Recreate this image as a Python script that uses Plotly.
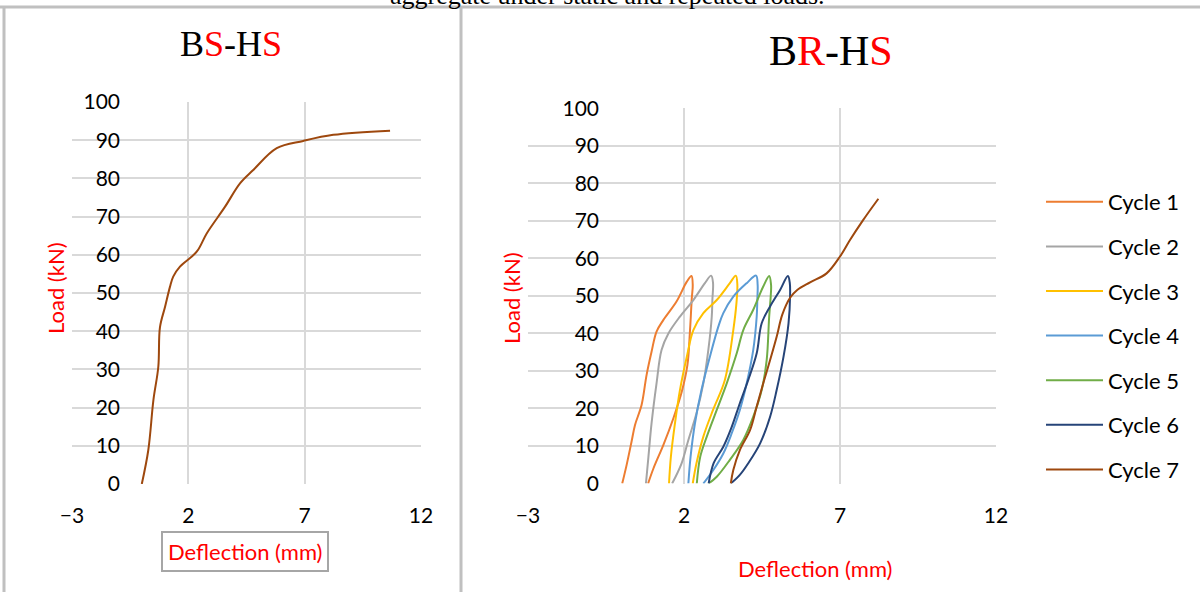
import plotly.graph_objects as go

W, H = 1200, 592

# ---------------- data ----------------
x_ticks = [-3, 2, 7, 12]
y_ticks = [0, 10, 20, 30, 40, 50, 60, 70, 80, 90, 100]

bs_hs_x = [0.0, 0.28, 0.5, 0.71, 0.78, 1.0, 1.21, 1.35, 1.64, 2.36, 2.79, 3.58, 4.22, 4.79, 5.80, 6.94, 8.23, 10.67]
bs_hs_y = [0, 8.9, 22, 30.7, 41, 46.4, 51.6, 54.3, 56.9, 60.8, 65.6, 72.6, 78.7, 82.2, 87.9, 89.8, 91.4, 92.5]

cycle_names = ["Cycle 1", "Cycle 2", "Cycle 3", "Cycle 4", "Cycle 5", "Cycle 6", "Cycle 7"]

cycle1_x = [0.02, 0.16, 0.32, 0.43, 0.64, 0.80, 0.96, 1.12, 1.34, 1.76, 2.09, 2.24, 2.28, 2.25, 2.19, 2.11, 1.93, 1.66, 1.34, 1.02, 0.85]
cycle1_y = [0, 4.9, 11.2, 15.6, 20.9, 28.9, 35.1, 40.5, 43.6, 48.5, 53.8, 55.3, 52.9, 49.4, 40.5, 31.6, 24.5, 17.4, 10.3, 4.0, 0]

cycle2_x = [0.78, 0.86, 0.96, 1.12, 1.28, 1.50, 1.87, 2.30, 2.67, 2.87, 2.93, 2.91, 2.89, 2.78, 2.62, 2.40, 2.14, 1.92, 1.62]
cycle2_y = [0, 7.1, 16, 26.7, 35.6, 40, 44.5, 48.9, 53.4, 55.4, 53.5, 49, 44.5, 35.6, 26.7, 18.7, 11.6, 5.3, 0]

cycle3_x = [1.52, 1.58, 1.71, 1.87, 2.09, 2.30, 2.62, 3.05, 3.47, 3.66, 3.71, 3.68, 3.58, 3.31, 2.93, 2.62, 2.40, 2.28]
cycle3_y = [0, 7.2, 16, 24.9, 33.8, 40.9, 45.4, 48.9, 53.4, 55.4, 53, 48, 40.9, 27.6, 19.6, 12.5, 5.4, 0]

cycle4_x = [2.14, 2.21, 2.35, 2.56, 2.83, 3.10, 3.26, 3.58, 4.01, 4.31, 4.36, 4.35, 4.33, 4.22, 4.01, 3.79, 3.53, 3.26, 2.94, 2.62]
cycle4_y = [0, 7.1, 16, 24.9, 33.8, 41.8, 45.4, 49.8, 53.4, 55.4, 53, 49, 44.5, 35.6, 26.7, 19.6, 13.4, 8, 3.6, 0]

cycle5_x = [2.41, 2.52, 2.73, 3.05, 3.37, 3.69, 3.90, 4.22, 4.54, 4.73, 4.79, 4.78, 4.73, 4.65, 4.49, 4.22, 3.90, 3.47, 3.05, 2.79]
cycle5_y = [0, 7.1, 12.5, 19.6, 26.7, 34.7, 40.9, 46.3, 52.5, 55.3, 53, 50, 44.5, 32.9, 24.9, 17.8, 11.6, 6.3, 1.8, 0]

cycle6_x = [2.79, 2.95, 3.26, 3.53, 3.79, 4.06, 4.33, 4.49, 4.76, 5.08, 5.33, 5.39, 5.40, 5.35, 5.19, 4.97, 4.76, 4.44, 4.06, 3.79, 3.50]
cycle6_y = [0, 5.4, 9.8, 15.1, 21.4, 27.6, 34.7, 42.7, 47.2, 51.6, 55.3, 53.5, 50, 42.7, 33.8, 24.9, 17.8, 10.7, 5.4, 2.3, 0]

cycle7_x = [3.50, 3.58, 3.79, 4.12, 4.33, 4.54, 4.76, 4.97, 5.15, 5.40, 5.62, 6.04, 6.57, 7.00, 7.32, 7.74, 8.23]
cycle7_y = [0, 3.6, 8.9, 14.3, 20.5, 26.7, 32.9, 39.1, 45, 49.5, 51.5, 53.6, 56, 60.5, 64.9, 70.2, 75.9]

cycle_colors = ["#ED7D31", "#A5A5A5", "#FFC000", "#5B9BD5", "#70AD47", "#264478", "#9E480E"]
bs_color = "#9E480E"

cycles_x = [cycle1_x, cycle2_x, cycle3_x, cycle4_x, cycle5_x, cycle6_x, cycle7_x]
cycles_y = [cycle1_y, cycle2_y, cycle3_y, cycle4_y, cycle5_y, cycle6_y, cycle7_y]

FONT = "Lato"
GRID = "#d9d9d9"


def px(v):
    return v / W


def py(v):
    return 1 - v / H


fig = go.Figure()

fig.add_trace(go.Scatter(x=bs_hs_x, y=bs_hs_y, mode="lines", xaxis="x", yaxis="y",
                         line=dict(color=bs_color, width=2, shape="spline", smoothing=1.0),
                         showlegend=False, hoverinfo="skip"))

for i in range(7):
    fig.add_trace(go.Scatter(x=cycles_x[i], y=cycles_y[i], mode="lines", name=cycle_names[i],
                             xaxis="x2", yaxis="y2", legendgroup=cycle_names[i],
                             line=dict(color=cycle_colors[i], width=2, shape="spline", smoothing=1.0)))

# dummy traces to carry the tick-label axes
fig.add_trace(go.Scatter(x=[None], y=[None], xaxis="x", yaxis="y3", showlegend=False, hoverinfo="skip"))
fig.add_trace(go.Scatter(x=[None], y=[None], xaxis="x2", yaxis="y4", showlegend=False, hoverinfo="skip"))

common_x = dict(range=[-3, 12], tickvals=x_ticks, showgrid=True, gridcolor=GRID, gridwidth=1.5,
                zeroline=False, showline=False, ticks="outside", ticklen=13,
                tickcolor="rgba(0,0,0,0)", tickfont=dict(family=FONT, size=21, color="#000"),
                fixedrange=True)
common_y = dict(range=[0, 100], tickvals=y_ticks, showgrid=True, gridcolor=GRID, gridwidth=1.5,
                zeroline=False, showline=False, showticklabels=False, ticks="", fixedrange=True)
label_y = dict(range=[0, 100], tickvals=y_ticks, showgrid=False, zeroline=False, showline=False,
               ticks="", tickfont=dict(family=FONT, size=21, color="#000"), anchor="free",
               side="left", fixedrange=True)

fig.update_layout(
    width=W, height=H,
    margin=dict(l=0, r=0, t=0, b=0, autoexpand=False),
    paper_bgcolor="white", plot_bgcolor="white",
    xaxis=dict(domain=[px(72), px(421)], anchor="y", **common_x),
    yaxis=dict(domain=[py(484), py(102)], anchor="x", **common_y),
    xaxis2=dict(domain=[px(528), px(996)], anchor="y2", **common_x),
    yaxis2=dict(domain=[py(483.5), py(108.3)], anchor="x2", **common_y),
    yaxis3=dict(domain=[py(484), py(102)], overlaying="y", position=px(120), **label_y),
    yaxis4=dict(domain=[py(483.5), py(108.3)], overlaying="y2", position=px(599), **label_y),
    legend=dict(x=px(1041), y=py(181), xanchor="left", yanchor="top", itemwidth=57,
                font=dict(family=FONT, size=22, color="#000"), tracegroupgap=13,
                bgcolor="rgba(0,0,0,0)"),
    showlegend=True,
)

annotations = [
    dict(text="B<span style='color:#FF0000'>S</span>-H<span style='color:#FF0000'>S</span>",
         x=px(231), y=py(44), xref="paper", yref="paper", showarrow=False,
         xanchor="center", yanchor="middle", font=dict(family="Liberation Serif", size=36, color="#000")),
    dict(text="B<span style='color:#FF0000'>R</span>-H<span style='color:#FF0000'>S</span>",
         x=px(831), y=py(51), xref="paper", yref="paper", showarrow=False,
         xanchor="center", yanchor="middle", font=dict(family="Liberation Serif", size=42, color="#000")),
    dict(text="Load (kN)", x=px(55), y=py(288), xref="paper", yref="paper", showarrow=False,
         textangle=-90, xanchor="center", yanchor="middle",
         font=dict(family=FONT, size=22, color="#FF0000")),
    dict(text="Load (kN)", x=px(511), y=py(298), xref="paper", yref="paper", showarrow=False,
         textangle=-90, xanchor="center", yanchor="middle",
         font=dict(family=FONT, size=22, color="#FF0000")),
    dict(text="Deflection (mm)", x=px(245), y=py(551), xref="paper", yref="paper", showarrow=False,
         xanchor="center", yanchor="middle", bordercolor="#A6A6A6", borderwidth=2, borderpad=5,
         font=dict(family=FONT, size=22, color="#FF0000")),
    dict(text="Deflection (mm)", x=px(815), y=py(568), xref="paper", yref="paper", showarrow=False,
         xanchor="center", yanchor="middle",
         font=dict(family=FONT, size=22, color="#FF0000")),
    dict(text="aggregate under static and repeated loads.", x=px(607), y=py(12), xref="paper",
         yref="paper", showarrow=False, xanchor="center", yanchor="bottom",
         font=dict(family="Liberation Serif", size=26, color="#000")),
]
fig.update_layout(annotations=annotations)

border = "#C0C0C0"
shapes = [
    dict(type="line", xref="paper", yref="paper", x0=0, x1=1, y0=py(7), y1=py(7),
         line=dict(color=border, width=3)),
    dict(type="line", xref="paper", yref="paper", x0=px(4), x1=px(4), y0=py(7), y1=0,
         line=dict(color=border, width=3)),
    dict(type="line", xref="paper", yref="paper", x0=px(461), x1=px(461), y0=py(7), y1=0,
         line=dict(color=border, width=3)),
]
fig.update_layout(shapes=shapes)

fig.write_html("out.html", config={"displayModeBar": False},
               post_script="document.body.style.margin='0';document.body.style.overflow='hidden';")
